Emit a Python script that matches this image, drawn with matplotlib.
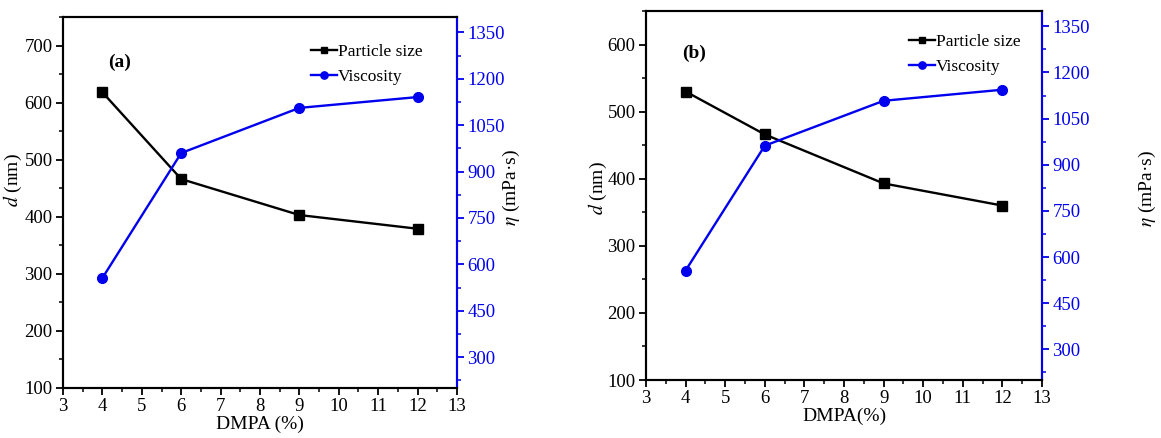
"""Particle size and viscosity vs DMPA content, two panels."""

import matplotlib

matplotlib.use("Agg")
import matplotlib.pyplot as plt
from matplotlib.ticker import MultipleLocator

plt.rcParams["font.family"] = ["Liberation Serif", "DejaVu Serif"]
plt.rcParams["mathtext.fontset"] = "stix"

dmpa = [4, 6, 9, 12]
size_a = [618, 466, 403, 379]
visc_a = [556, 960, 1106, 1141]
size_b = [530, 466, 393, 360]
visc_b = [556, 962, 1108, 1144]

BLUE = "#0000ee"


def draw_panel(fig, rect, size, visc, size_max, tag, xlabel, tag_pos, leg_pos, lab_left, lab_right):
    ax = fig.add_axes(rect)
    ax2 = ax.twinx()
    l1, = ax.plot(dmpa, size, color="black", marker="s", markersize=6.5, linewidth=1.7,
                  label="Particle size")
    l2, = ax2.plot(dmpa, visc, color=BLUE, marker="o", markersize=7, linewidth=1.7,
                   label="Viscosity")

    ax.set_xlim(3, 13)
    ax.set_ylim(100, size_max)
    ax.xaxis.set_major_locator(MultipleLocator(1))
    ax.xaxis.set_minor_locator(MultipleLocator(0.5))
    ax.yaxis.set_major_locator(MultipleLocator(100))
    ax.yaxis.set_minor_locator(MultipleLocator(50))
    ax2.set_ylim(200, 1400)
    ax2.yaxis.set_minor_locator(MultipleLocator(75))
    ax2.set_yticks(range(300, 1351, 150))

    for a in (ax, ax2):
        a.tick_params(which="major", length=5, width=1.3, labelsize=13.5, pad=2.5)
        a.tick_params(which="minor", length=3, width=1.1)
        for sp in a.spines.values():
            sp.set_linewidth(1.5)
    ax2.spines["right"].set_color(BLUE)
    ax2.tick_params(axis="y", which="both", colors=BLUE, labelcolor=BLUE)

    ax.set_xlabel(xlabel, fontsize=14, labelpad=0)
    ax.set_ylabel(r"$\mathit{d}$ (nm)", fontsize=14)
    ax2.set_ylabel(r"$\mathit{\eta}$ (mPa·s)", fontsize=14)
    ax.yaxis.set_label_coords(*lab_left)
    ax2.yaxis.set_label_coords(*lab_right)

    ax.text(tag_pos[0], tag_pos[1], tag, transform=ax.transAxes, fontsize=14,
            fontweight="bold", ha="left", va="center")
    ax.legend(handles=[l1, l2], loc="upper left", bbox_to_anchor=leg_pos, frameon=False,
              fontsize=12.5, handlelength=1.5, handletextpad=0.05, borderpad=0,
              borderaxespad=0, labelspacing=0.5, markerscale=0.75)
    return ax, ax2


fig = plt.figure(figsize=(11.61, 4.38), dpi=100, facecolor="white")
draw_panel(fig, [0.0543, 0.1142, 0.3393, 0.847], size_a, visc_a, 750, "(a)",
           "DMPA (%)", (0.114, 0.879), (0.63, 0.927), (-0.099, 0.56), (1.112, 0.54))
draw_panel(fig, [0.5564, 0.1324, 0.3411, 0.8425], size_b, visc_b, 650, "(b)",
           "DMPA(%)", (0.091, 0.886), (0.665, 0.938), (-0.093, 0.52), (1.24, 0.52))

fig.savefig("out.png", dpi=100, facecolor="white")
